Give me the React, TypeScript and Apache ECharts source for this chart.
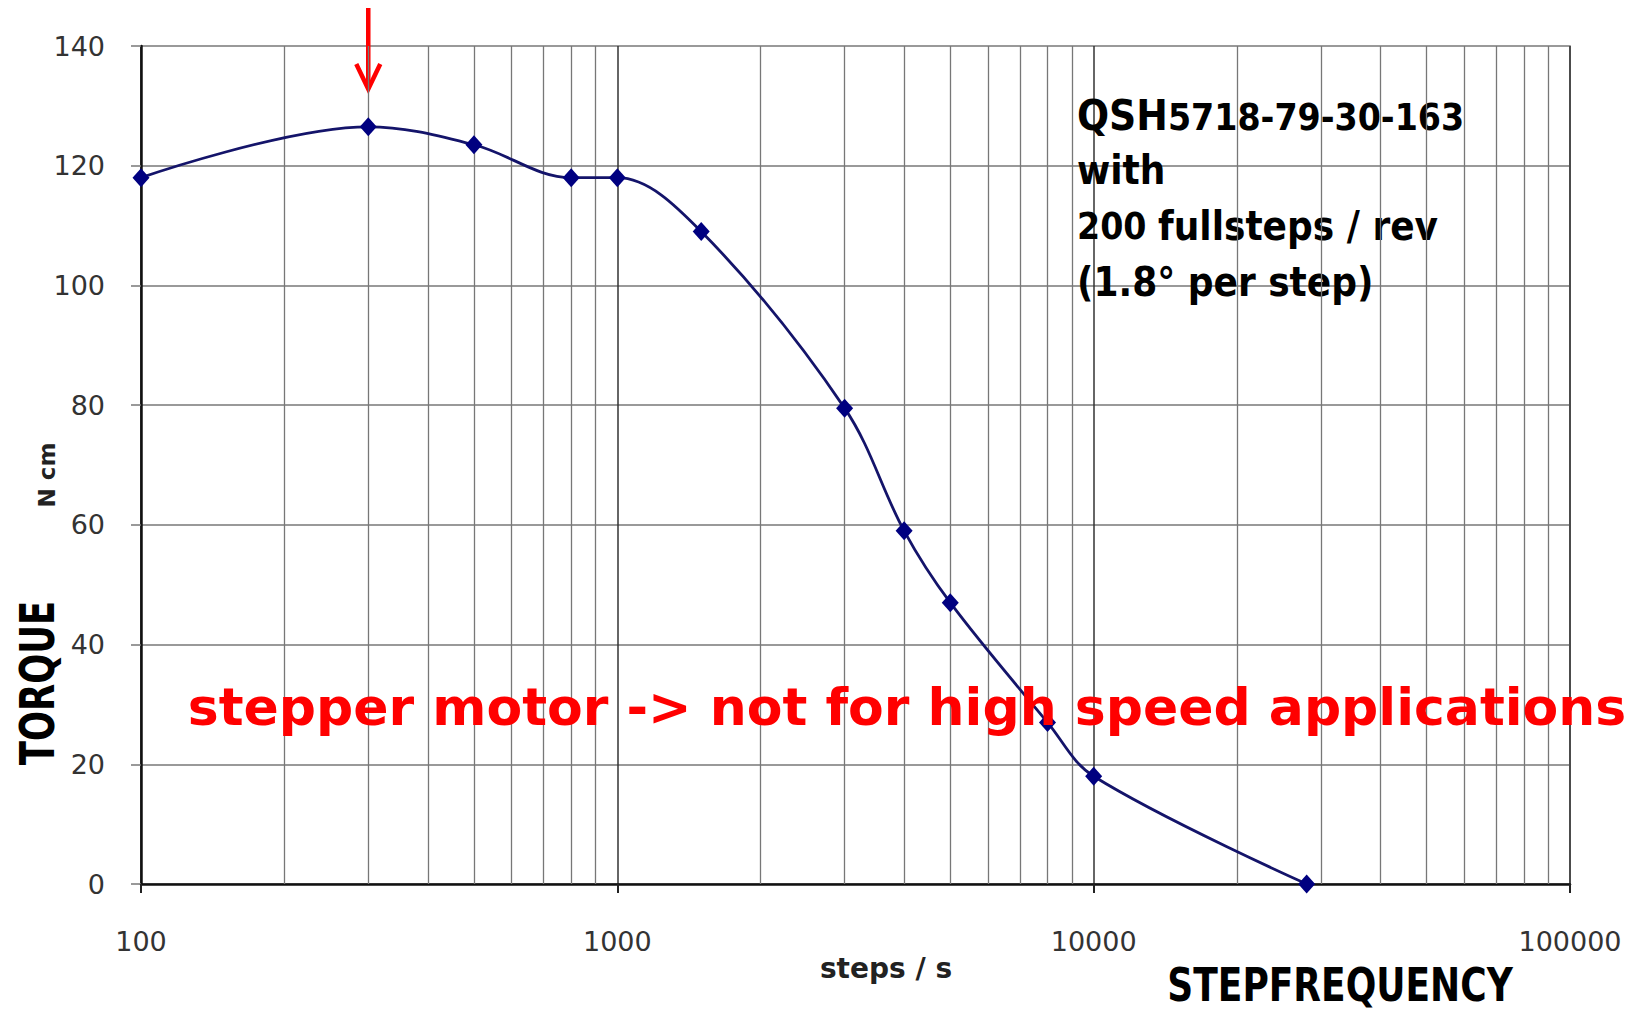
import React, { useEffect, useRef } from "react";
import * as echarts from "echarts";

const stepFreq = [100, 300, 500, 800, 1000, 1500, 3000, 4000, 5000, 8000, 10000, 28000];
const torque = [118, 126.5, 123.5, 118, 118, 109, 79.5, 59, 47, 27, 18, 0];
const minorGrid = [200, 300, 400, 500, 600, 700, 800, 900, 2000, 3000, 4000, 5000, 6000, 7000, 8000, 9000, 20000, 30000, 40000, 50000, 60000, 70000, 80000, 90000];
const xTicks = [100, 1000, 10000, 100000];
const yTicks = [0, 20, 40, 60, 80, 100, 120, 140];
const markedFreq = 300;

const COND = '"DejaVu Sans Condensed", "DejaVu Sans", sans-serif';

export default function App() {
  const ref = useRef<HTMLDivElement>(null);
  useEffect(() => {
    const chart = echarts.init(ref.current!, null, { renderer: "svg" });
    const option: any = {
      animation: false,
      backgroundColor: "#ffffff",
      grid: { left: 141, right: 66, top: 46, bottom: 130, show: true, borderColor: "#777", borderWidth: 1.5 },
      xAxis: {
        type: "log",
        logBase: 10,
        min: xTicks[0],
        max: xTicks[xTicks.length - 1],
        interval: 1,
        axisLine: { show: true, lineStyle: { color: "#111", width: 2.5 } },
        axisTick: { show: true, length: 9, lineStyle: { color: "#222", width: 2 } },
        axisLabel: { margin: 44, fontFamily: "DejaVu Sans", fontSize: 27, color: "#333", formatter: (v: number) => String(Math.round(v)) },
        splitLine: { show: true, lineStyle: { color: "#333", width: 1.5 } },
        minorTick: { show: false },
      },
      yAxis: {
        type: "value",
        min: yTicks[0],
        max: yTicks[yTicks.length - 1],
        interval: 20,
        axisLine: { show: true, lineStyle: { color: "#111", width: 2.5 } },
        axisTick: { show: true, length: 10, lineStyle: { color: "#777", width: 1.5 } },
        axisLabel: { margin: 36, fontFamily: "DejaVu Sans", fontSize: 27, color: "#333" },
        splitLine: { show: true, lineStyle: { color: "#999", width: 2 } },
      },
      series: [
        {
          type: "line",
          silent: true,
          data: [],
          markLine: {
            silent: true,
            symbol: "none",
            label: { show: false },
            lineStyle: { color: "#777", width: 1.3, type: "solid" },
            data: minorGrid.map((v) => ({ xAxis: v })),
          },
        },
        {
          type: "line",
          data: stepFreq.map((f, i) => [f, torque[i]]),
          smooth: 0.35,
          symbol: "diamond",
          symbolSize: [17, 19],
          lineStyle: { color: "#14146a", width: 2.8 },
          itemStyle: { color: "#000080" },
          z: 5,
        },
      ],
    };
    chart.setOption(option);
    const ax = chart.convertToPixel({ xAxisIndex: 0 }, markedFreq) as number;
    chart.setOption({
      graphic: [
        { type: "line", shape: { x1: ax, y1: 8, x2: ax, y2: 88 }, style: { stroke: "#ff0000", lineWidth: 4.5 } },
        { type: "polyline", shape: { points: [[ax - 12, 64], [ax, 89], [ax + 12, 64]] }, style: { stroke: "#ff0000", lineWidth: 4.5, fill: null } },
        {
          type: "text", x: 1077, y: 115,
          style: {
            text: "{a|QSH}{n|5718-79-30-163}", verticalAlign: "middle",
            rich: {
              a: { fontFamily: COND, fontWeight: "bold", fontSize: 42, fill: "#000" },
              n: { fontFamily: COND, fontWeight: "bold", fontSize: 37, fill: "#000", verticalAlign: "bottom" },
            },
          },
        },
        { type: "text", x: 1077, y: 170, style: { text: "with", verticalAlign: "middle", fontFamily: COND, fontWeight: "bold", fontSize: 40, fill: "#000" } },
        {
          type: "text", x: 1077, y: 226,
          style: {
            text: "{n|200 }{a|fullsteps / rev}", verticalAlign: "middle",
            rich: {
              a: { fontFamily: COND, fontWeight: "bold", fontSize: 40, fill: "#000" },
              n: { fontFamily: COND, fontWeight: "bold", fontSize: 37, fill: "#000" },
            },
          },
        },
        { type: "text", x: 1077, y: 282, style: { text: "(1.8° per step)", verticalAlign: "middle", fontFamily: COND, fontWeight: "bold", fontSize: 40, fill: "#000" } },
        {
          type: "text", x: 907, y: 707,
          style: { text: "stepper motor -> not for high speed applications", align: "center", verticalAlign: "middle", fontFamily: "DejaVu Sans", fontWeight: "bold", fontSize: 52, fill: "#ff0000" },
          z: 10,
        },
        { type: "text", x: 47, y: 475, rotation: Math.PI / 2, style: { text: "N cm", align: "center", verticalAlign: "middle", fontFamily: "DejaVu Sans", fontWeight: "bold", fontSize: 23, fill: "#222" } },
        { type: "text", x: 886, y: 968, style: { text: "steps / s", align: "center", verticalAlign: "middle", fontFamily: "DejaVu Sans", fontWeight: "bold", fontSize: 28, fill: "#222" } },
        { type: "text", x: 37, y: 683, rotation: Math.PI / 2, scaleX: 0.82, style: { text: "TORQUE", align: "center", verticalAlign: "middle", fontFamily: COND, fontWeight: "bold", fontSize: 48, fill: "#000" } },
        { type: "text", x: 1340, y: 985, scaleX: 0.87, style: { text: "STEPFREQUENCY", align: "center", verticalAlign: "middle", fontFamily: COND, fontWeight: "bold", fontSize: 46, fill: "#000" } },
      ],
    });
    return () => chart.dispose();
  }, []);
  return <div ref={ref} style={{ position: "fixed", left: 0, top: 0, width: 1636, height: 1014 }} />;
}
